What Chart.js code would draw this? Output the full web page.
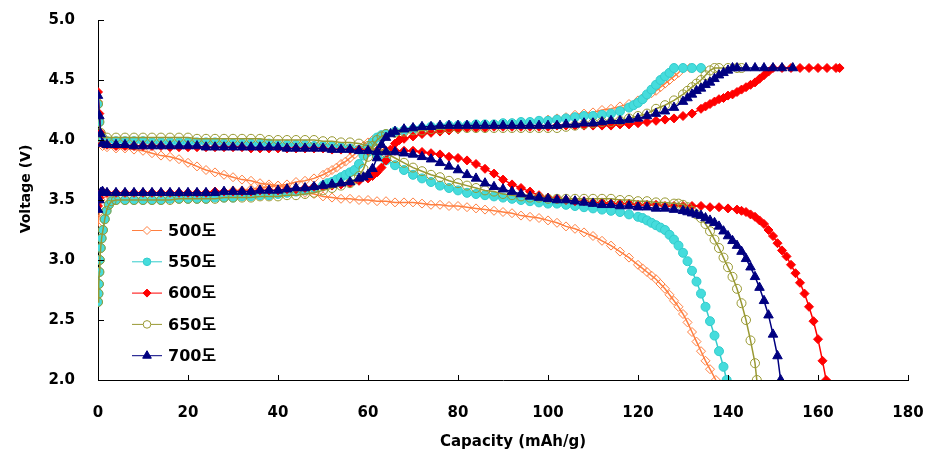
<!DOCTYPE html>
<html><head><meta charset="utf-8">
<script src="https://cdn.jsdelivr.net/npm/chart.js@4.4.1/dist/chart.umd.min.js"></script>
<style>html,body{margin:0;padding:0;background:#fff}#wrap{width:936px;height:472px}</style>
</head><body><div id="wrap"><canvas id="c" width="936" height="472"></canvas></div>
<script>
const seriesNames = ['500도','550도','600도','650도','700도'];
const xTicks = [0,20,40,60,80,100,120,140,160,180];
const yTicks = [2.0,2.5,3.0,3.5,4.0,4.5,5.0];
const xTitle = 'Capacity (mAh/g)';
const yTitle = 'Voltage (V)';

// [capacity, voltage] – charge (c) and discharge (d) curves
const c500 = [[0,3.28],[0.3,3.4],[0.6,3.5],[1,3.54],[2,3.55],[4,3.55],[6,3.55],[8,3.55],[10,3.56],[12,3.56],[14,3.56],[16,3.56],[18,3.56],[20,3.56],[22,3.56],[24,3.56],[26,3.57],[28,3.57],[30,3.58],[32,3.58],[34,3.59],[36,3.6],[38,3.61],[40,3.62],[42,3.63],[44,3.65],[46,3.66],[48,3.68],[50,3.71],[51,3.73],[52,3.75],[53,3.77],[54,3.8],[55,3.82],[56,3.85],[57,3.88],[58,3.92],[59,3.95],[60,3.98],[61,4.0],[62,4.02],[63,4.04],[64,4.05],[66,4.06],[68,4.07],[70,4.08],[72,4.09],[74,4.1],[76,4.1],[78,4.11],[80,4.11],[82,4.12],[84,4.12],[86,4.12],[88,4.13],[90,4.13],[92,4.14],[94,4.14],[96,4.15],[98,4.16],[100,4.17],[102,4.18],[104,4.19],[106,4.21],[108,4.22],[110,4.23],[112,4.25],[114,4.26],[116,4.28],[118,4.3],[120,4.33],[121,4.35],[122,4.37],[123,4.39],[124,4.41],[125,4.44],[126,4.47],[127,4.5],[128,4.53],[129,4.56],[130,4.6],[131.5,4.6]];
const d500 = [[0,4.32],[0.3,4.15],[0.6,4.0],[1,3.95],[2,3.94],[4,3.93],[6,3.93],[8,3.92],[10,3.91],[12,3.89],[14,3.87],[16,3.86],[18,3.84],[20,3.81],[22,3.78],[24,3.75],[26,3.73],[28,3.71],[30,3.69],[32,3.67],[34,3.66],[36,3.64],[38,3.63],[40,3.62],[42,3.6],[44,3.58],[46,3.56],[48,3.55],[50,3.53],[52,3.52],[54,3.51],[56,3.51],[58,3.5],[60,3.5],[62,3.49],[64,3.49],[66,3.48],[68,3.48],[70,3.48],[72,3.47],[74,3.46],[76,3.46],[78,3.45],[80,3.45],[82,3.44],[84,3.43],[86,3.42],[88,3.41],[90,3.4],[92,3.39],[94,3.37],[96,3.36],[98,3.35],[100,3.33],[102,3.31],[104,3.28],[106,3.26],[108,3.23],[110,3.2],[112,3.16],[114,3.12],[116,3.07],[118,3.02],[120,2.96],[121,2.93],[122,2.9],[123,2.87],[124,2.84],[125,2.8],[126,2.76],[127,2.71],[128,2.66],[129,2.61],[130,2.55],[131,2.48],[132,2.4],[133,2.32],[134,2.24],[135,2.16],[136,2.09],[137.3,2.0]];
const c550 = [[0,2.65],[0.1,2.72],[0.2,2.8],[0.3,2.9],[0.4,3.0],[0.6,3.1],[0.8,3.18],[1.1,3.25],[1.5,3.34],[1.9,3.41],[2.4,3.46],[3,3.49],[4,3.5],[6,3.5],[8,3.5],[10,3.5],[12,3.5],[14,3.5],[16,3.51],[18,3.51],[20,3.51],[22,3.51],[24,3.51],[26,3.52],[28,3.52],[30,3.52],[32,3.53],[34,3.53],[36,3.54],[38,3.54],[40,3.55],[42,3.56],[44,3.57],[46,3.58],[48,3.6],[50,3.62],[51,3.64],[52,3.65],[53,3.67],[54,3.69],[55,3.71],[56,3.73],[57,3.75],[58,3.8],[59,3.87],[60,3.93],[61,3.98],[62,4.02],[63,4.04],[64,4.05],[66,4.07],[68,4.08],[70,4.09],[72,4.1],[74,4.11],[76,4.11],[78,4.12],[80,4.12],[82,4.12],[84,4.13],[86,4.13],[88,4.13],[90,4.14],[92,4.14],[94,4.15],[96,4.15],[98,4.16],[100,4.16],[102,4.17],[104,4.18],[106,4.19],[108,4.2],[110,4.2],[112,4.21],[114,4.22],[116,4.24],[118,4.27],[119,4.29],[120,4.31],[121,4.34],[122,4.38],[123,4.42],[124,4.46],[125,4.5],[126,4.53],[127,4.56],[128,4.6],[130,4.6],[132,4.6],[134,4.6]];
const d550 = [[0,4.3],[0.3,4.15],[0.6,4.04],[1,4.0],[2,3.99],[4,3.99],[6,3.99],[8,3.99],[10,3.99],[12,3.98],[14,3.98],[16,3.98],[18,3.98],[20,3.98],[22,3.98],[24,3.98],[26,3.98],[28,3.97],[30,3.97],[32,3.97],[34,3.97],[36,3.97],[38,3.97],[40,3.96],[42,3.96],[44,3.96],[46,3.96],[48,3.95],[50,3.95],[52,3.95],[54,3.94],[56,3.93],[58,3.92],[60,3.9],[62,3.87],[64,3.83],[66,3.79],[68,3.75],[70,3.71],[72,3.68],[74,3.65],[76,3.62],[78,3.6],[80,3.58],[82,3.56],[84,3.55],[86,3.54],[88,3.53],[90,3.52],[92,3.51],[94,3.5],[96,3.49],[98,3.48],[100,3.47],[102,3.47],[104,3.46],[106,3.45],[108,3.44],[110,3.43],[112,3.42],[114,3.41],[116,3.4],[118,3.38],[120,3.36],[121,3.35],[122,3.33],[123,3.31],[124,3.29],[125,3.27],[126,3.25],[127,3.21],[128,3.17],[129,3.12],[130,3.06],[131,2.99],[132,2.91],[133,2.82],[134,2.72],[135,2.61],[136,2.49],[137,2.37],[138,2.24],[139,2.11],[139.7,2.0]];
const c600 = [[0,3.45],[0.3,3.52],[0.6,3.56],[1,3.57],[2,3.56],[4,3.56],[6,3.56],[8,3.56],[10,3.56],[12,3.56],[14,3.56],[16,3.56],[18,3.56],[20,3.56],[22,3.56],[24,3.56],[26,3.57],[28,3.57],[30,3.57],[32,3.57],[34,3.57],[36,3.58],[38,3.58],[40,3.58],[42,3.59],[44,3.59],[46,3.6],[48,3.61],[50,3.61],[52,3.62],[54,3.63],[56,3.64],[58,3.66],[60,3.68],[61,3.7],[62,3.73],[63,3.77],[64,3.83],[65,3.92],[66,3.97],[67,4.0],[68,4.01],[70,4.03],[72,4.05],[74,4.06],[76,4.07],[78,4.08],[80,4.09],[82,4.1],[84,4.1],[86,4.1],[88,4.11],[90,4.11],[92,4.11],[94,4.11],[96,4.11],[98,4.11],[100,4.11],[102,4.12],[104,4.12],[106,4.12],[108,4.12],[110,4.12],[112,4.12],[114,4.12],[116,4.13],[118,4.13],[120,4.14],[122,4.15],[124,4.16],[126,4.17],[128,4.18],[130,4.2],[132,4.22],[134,4.26],[135,4.28],[136,4.3],[137,4.32],[138,4.34],[139,4.35],[140,4.37],[141,4.38],[142,4.4],[143,4.42],[144,4.44],[145,4.46],[146,4.48],[147,4.51],[148,4.54],[149,4.57],[150,4.6],[152,4.6],[154,4.6],[156,4.6],[158,4.6],[160,4.6],[162,4.6],[164,4.6],[164.8,4.6]];
const d600 = [[0,4.4],[0.3,4.22],[0.6,4.06],[1,3.97],[2,3.96],[4,3.95],[6,3.95],[8,3.95],[10,3.95],[12,3.95],[14,3.95],[16,3.94],[18,3.94],[20,3.94],[22,3.94],[24,3.94],[26,3.94],[28,3.94],[30,3.94],[32,3.94],[34,3.93],[36,3.93],[38,3.93],[40,3.93],[42,3.93],[44,3.93],[46,3.93],[48,3.93],[50,3.93],[52,3.92],[54,3.92],[56,3.92],[58,3.92],[60,3.91],[62,3.91],[64,3.91],[66,3.91],[68,3.91],[70,3.91],[72,3.9],[74,3.89],[76,3.88],[78,3.86],[80,3.85],[82,3.83],[84,3.8],[86,3.76],[88,3.72],[90,3.67],[92,3.63],[94,3.6],[96,3.57],[98,3.54],[100,3.52],[102,3.51],[104,3.5],[106,3.49],[108,3.49],[110,3.48],[112,3.48],[114,3.47],[116,3.47],[118,3.47],[120,3.46],[122,3.46],[124,3.46],[126,3.45],[128,3.45],[130,3.45],[132,3.45],[134,3.45],[136,3.44],[138,3.44],[140,3.43],[142,3.42],[143,3.41],[144,3.4],[145,3.38],[146,3.36],[147,3.33],[148,3.3],[149,3.25],[150,3.2],[151,3.14],[152,3.08],[153,3.03],[154,2.96],[155,2.89],[156,2.81],[157,2.72],[158,2.61],[159,2.49],[160,2.34],[161,2.16],[161.8,2.0]];
const c650 = [[0,2.65],[0.1,2.72],[0.2,2.8],[0.3,2.9],[0.4,3.0],[0.6,3.1],[0.8,3.18],[1.1,3.25],[1.5,3.34],[1.9,3.41],[2.4,3.46],[3,3.49],[4,3.5],[6,3.5],[8,3.5],[10,3.5],[12,3.5],[14,3.5],[16,3.5],[18,3.51],[20,3.51],[22,3.51],[24,3.51],[26,3.51],[28,3.52],[30,3.52],[32,3.52],[34,3.52],[36,3.53],[38,3.53],[40,3.53],[42,3.54],[44,3.54],[46,3.55],[48,3.56],[50,3.58],[52,3.6],[54,3.62],[56,3.64],[57,3.67],[58,3.7],[59,3.76],[60,3.86],[61,3.95],[62,4.0],[63,4.03],[64,4.05],[66,4.06],[68,4.07],[70,4.08],[72,4.08],[74,4.09],[76,4.09],[78,4.1],[80,4.1],[82,4.1],[84,4.1],[86,4.1],[88,4.1],[90,4.1],[92,4.1],[94,4.1],[96,4.1],[98,4.1],[100,4.1],[102,4.1],[104,4.11],[106,4.12],[108,4.13],[110,4.14],[112,4.15],[114,4.15],[116,4.16],[118,4.18],[120,4.2],[122,4.22],[124,4.26],[126,4.29],[128,4.33],[130,4.38],[131,4.41],[132,4.44],[133,4.47],[134,4.5],[135,4.54],[136,4.58],[137,4.6],[138,4.6],[140,4.6],[142,4.6],[143,4.6]];
const d650 = [[0,4.3],[0.3,4.15],[0.6,4.06],[1,4.02],[2,4.02],[4,4.02],[6,4.02],[8,4.02],[10,4.02],[12,4.02],[14,4.02],[16,4.02],[18,4.02],[20,4.02],[22,4.01],[24,4.01],[26,4.01],[28,4.01],[30,4.01],[32,4.01],[34,4.01],[36,4.01],[38,4.0],[40,4.0],[42,4.0],[44,4.0],[46,4.0],[48,4.0],[50,3.99],[52,3.99],[54,3.98],[56,3.98],[58,3.97],[60,3.95],[62,3.92],[64,3.89],[66,3.85],[68,3.81],[70,3.77],[72,3.74],[74,3.71],[76,3.69],[78,3.66],[80,3.64],[82,3.62],[84,3.6],[86,3.58],[88,3.57],[90,3.55],[92,3.54],[94,3.53],[96,3.52],[98,3.52],[100,3.51],[102,3.51],[104,3.51],[106,3.51],[108,3.51],[110,3.51],[112,3.51],[114,3.51],[116,3.5],[118,3.5],[120,3.49],[122,3.49],[124,3.48],[126,3.48],[128,3.47],[129,3.47],[130,3.46],[131,3.44],[132,3.41],[133,3.38],[134,3.35],[135,3.3],[136,3.24],[137,3.17],[138,3.1],[139,3.02],[140,2.94],[141,2.86],[142,2.76],[143,2.64],[144,2.5],[145,2.33],[146,2.14],[146.4,2.0]];
const c700 = [[0,3.42],[0.3,3.5],[0.6,3.56],[1,3.57],[2,3.56],[4,3.56],[6,3.56],[8,3.56],[10,3.56],[12,3.56],[14,3.56],[16,3.56],[18,3.56],[20,3.56],[22,3.56],[24,3.56],[26,3.56],[28,3.57],[30,3.57],[32,3.57],[34,3.57],[36,3.58],[38,3.58],[40,3.58],[42,3.59],[44,3.6],[46,3.6],[48,3.61],[50,3.62],[52,3.63],[54,3.64],[56,3.65],[58,3.68],[59,3.69],[60,3.71],[61,3.76],[62,3.85],[63,3.96],[64,4.02],[65,4.05],[66,4.07],[68,4.09],[70,4.1],[72,4.11],[74,4.11],[76,4.12],[78,4.12],[80,4.12],[82,4.12],[84,4.12],[86,4.12],[88,4.12],[90,4.12],[92,4.12],[94,4.12],[96,4.12],[98,4.12],[100,4.12],[102,4.12],[104,4.13],[106,4.13],[108,4.14],[110,4.14],[112,4.15],[114,4.16],[116,4.16],[118,4.17],[120,4.18],[122,4.2],[124,4.22],[126,4.24],[128,4.27],[130,4.32],[131,4.35],[132,4.38],[133,4.41],[134,4.43],[135,4.46],[136,4.48],[137,4.51],[138,4.54],[139,4.56],[140,4.58],[141,4.6],[142,4.6],[144,4.6],[146,4.6],[148,4.6],[150,4.6],[152,4.6],[154.4,4.6]];
const d700 = [[0,4.37],[0.3,4.2],[0.6,4.05],[1,3.97],[2,3.96],[4,3.96],[6,3.96],[8,3.95],[10,3.95],[12,3.95],[14,3.95],[16,3.95],[18,3.95],[20,3.95],[22,3.95],[24,3.94],[26,3.94],[28,3.94],[30,3.94],[32,3.94],[34,3.94],[36,3.94],[38,3.94],[40,3.94],[42,3.93],[44,3.93],[46,3.93],[48,3.93],[50,3.93],[52,3.92],[54,3.92],[56,3.92],[58,3.91],[60,3.91],[62,3.9],[64,3.9],[66,3.9],[68,3.89],[70,3.88],[72,3.86],[74,3.84],[76,3.81],[78,3.78],[80,3.75],[82,3.71],[84,3.68],[86,3.64],[88,3.61],[90,3.59],[92,3.57],[94,3.55],[96,3.53],[98,3.52],[100,3.51],[102,3.5],[104,3.5],[106,3.49],[108,3.48],[110,3.47],[112,3.46],[114,3.46],[116,3.45],[118,3.45],[120,3.44],[122,3.44],[124,3.43],[126,3.43],[128,3.42],[130,3.41],[131,3.4],[132,3.39],[133,3.38],[134,3.37],[135,3.35],[136,3.33],[137,3.31],[138,3.28],[139,3.24],[140,3.2],[141,3.16],[142,3.12],[143,3.07],[144,3.01],[145,2.94],[146,2.86],[147,2.77],[148,2.66],[149,2.54],[150,2.38],[151,2.2],[151.7,2.0]];

const chargeCurves = [c500, c550, c600, c650, c700];
const dischargeCurves = [d500, d550, d600, d650, d700];

// styles (kept separate from data)
const styles = [
  {color:'#FF7F40', fill:'rgba(255,255,255,0)', shape:'rectRot', r:4.5, lr:4},
  {color:'#33CCCC', fill:'#45DCDC', shape:'circle', r:4.5, lr:3.8},
  {color:'#FF0000', fill:'#FF0000', shape:'rectRot', r:4.5, lr:4},
  {color:'#999933', fill:'rgba(255,255,255,0)', shape:'circle', r:4.5, lr:3.8},
  {color:'#000080', fill:'#000080', shape:'triangle', r:5.5, lr:5}
];
const FONT = "'DejaVu Sans', 'Noto Sans CJK KR', sans-serif";

const datasets = [];
seriesNames.forEach((name, i) => {
  const st = styles[i];
  [chargeCurves[i], dischargeCurves[i]].forEach(curve => {
    datasets.push({
      label: name,
      data: curve.map(p => ({x: p[0], y: p[1]})),
      showLine: true,
      borderColor: st.color,
      borderWidth: 1.5,
      backgroundColor: st.fill,
      pointStyle: st.shape,
      pointRadius: st.r,
      pointBorderColor: st.color,
      pointBackgroundColor: st.fill,
      pointBorderWidth: 1,
      order: 5 - i
    });
  });
});

function drawMarker(ctx, st, x, y) {
  const r = st.lr;
  ctx.beginPath();
  if (st.shape === 'circle') ctx.arc(x, y, r, 0, Math.PI * 2);
  else if (st.shape === 'rectRot') { ctx.moveTo(x, y - r); ctx.lineTo(x + r, y); ctx.lineTo(x, y + r); ctx.lineTo(x - r, y); ctx.closePath(); }
  else { ctx.moveTo(x, y - r); ctx.lineTo(x + 0.866 * r, y + 0.5 * r); ctx.lineTo(x - 0.866 * r, y + 0.5 * r); ctx.closePath(); }
  ctx.fillStyle = st.fill === 'rgba(255,255,255,0)' ? '#fff' : st.fill; ctx.fill();
  ctx.strokeStyle = st.color; ctx.lineWidth = 1; ctx.stroke();
}

const innerTicks = {
  id: 'innerTicks',
  afterDraw(chart) {
    const {ctx, chartArea: a, scales: {x, y}} = chart;
    ctx.save();
    ctx.strokeStyle = '#000'; ctx.lineWidth = 1;
    ctx.beginPath();
    x.ticks.forEach(t => { const px = Math.round(x.getPixelForValue(t.value)) + 0.5; ctx.moveTo(px, a.bottom); ctx.lineTo(px, a.bottom - 5); });
    y.ticks.forEach(t => { const py = Math.round(y.getPixelForValue(t.value)) + 0.5; ctx.moveTo(a.left, py); ctx.lineTo(a.left + 6, py); });
    ctx.stroke();
    ctx.restore();
  }
};

const titlesAndLegend = {
  id: 'titlesAndLegend',
  afterDraw(chart) {
    const {ctx, chartArea: a} = chart;
    ctx.save();
    ctx.fillStyle = '#000';
    // axis titles
    ctx.font = 'bold 15px ' + FONT;
    ctx.textAlign = 'center';
    ctx.textBaseline = 'middle';
    ctx.fillText(xTitle, a.left + 415, a.bottom + 62);
    ctx.save();
    ctx.translate(a.left - 72, a.top + 169);
    ctx.rotate(-Math.PI / 2);
    ctx.font = 'bold 14px ' + FONT;
    ctx.fillText(yTitle, 0, 0);
    ctx.restore();
    // legend
    ctx.font = 'bold 16px ' + FONT;
    ctx.textAlign = 'left';
    seriesNames.forEach((name, i) => {
      const st = styles[i];
      const y = a.top + 210.5 + i * 31.3;
      const x0 = a.left + 34;
      ctx.strokeStyle = st.color; ctx.lineWidth = 1;
      ctx.beginPath(); ctx.moveTo(x0, y); ctx.lineTo(x0 + 30, y); ctx.stroke();
      drawMarker(ctx, st, x0 + 15, y);
      ctx.fillStyle = '#000';
      ctx.fillText(name, x0 + 36, y + 1);
    });
    ctx.restore();
  }
};

new Chart(document.getElementById('c'), {
  type: 'scatter',
  data: {datasets},
  options: {
    responsive: false,
    animation: false,
    layout: {padding: {left: 0, top: 20, right: 28, bottom: 0}},
    plugins: {legend: {display: false}, tooltip: {enabled: false}},
    scales: {
      x: {
        type: 'linear', min: 0, max: 180,
        afterBuildTicks: s => { s.ticks = xTicks.map(v => ({value: v})); },
        afterFit: s => { s.height = 92; s.paddingLeft = 0; s.paddingRight = 0; },
        grid: {display: false, drawTicks: false},
        border: {display: true, color: '#000', width: 1},
        ticks: {padding: 24, color: '#000', font: {family: FONT, size: 15, weight: 'bold'}}
      },
      y: {
        type: 'linear', min: 2, max: 5,
        afterBuildTicks: s => { s.ticks = yTicks.map(v => ({value: v})); },
        afterFit: s => { s.width = 98; s.paddingTop = 0; s.paddingBottom = 0; },
        grid: {display: false, drawTicks: false},
        border: {display: true, color: '#000', width: 1},
        ticks: {padding: 23, color: '#000', font: {family: FONT, size: 15, weight: 'bold'}, callback: v => Number(v).toFixed(1)}
      }
    }
  },
  plugins: [innerTicks, titlesAndLegend]
});
</script></body></html>
